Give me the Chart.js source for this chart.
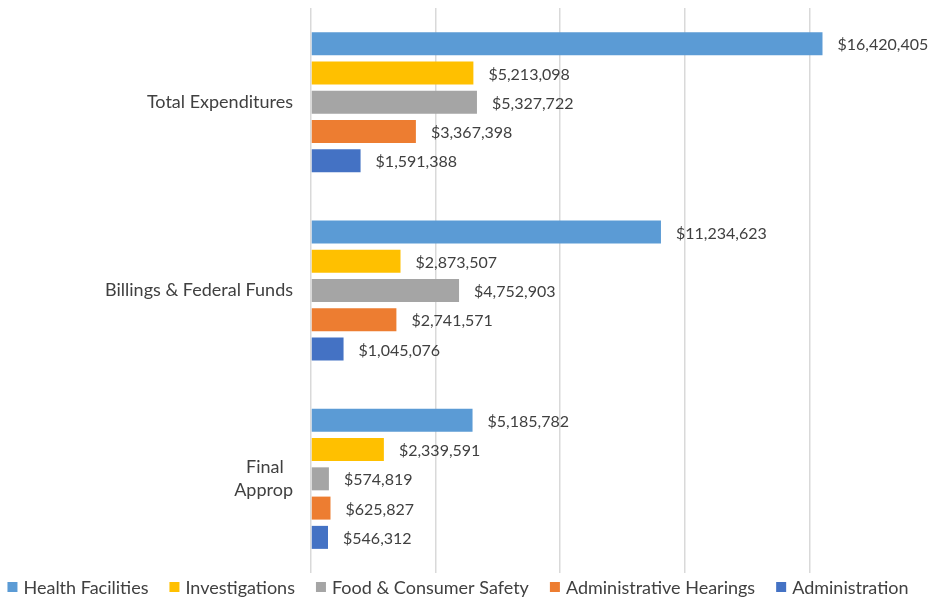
<!DOCTYPE html>
<html>
<head>
<meta charset="utf-8">
<script src="https://cdn.jsdelivr.net/npm/chart.js@4/dist/chart.umd.min.js"></script>
<style>
html,body{margin:0;padding:0;background:#fff;}
#wrap{width:938px;height:598px;position:relative;}
</style>
</head>
<body>
<div id="wrap"><canvas id="c"></canvas></div>
<script>
const categories = ['Total Expenditures', 'Billings & Federal Funds', 'Final Approp'];
const seriesNames = ['Health Facilities', 'Investigations', 'Food & Consumer Safety', 'Administrative Hearings', 'Administration'];
const healthFacilities = [16420405, 11234623, 5185782];
const investigations = [5213098, 2873507, 2339591];
const foodConsumerSafety = [5327722, 4752903, 574819];
const administrativeHearings = [3367398, 2741571, 625827];
const administration = [1591388, 1045076, 546312];
const xTicks = [0, 4000000, 8000000, 12000000, 16000000, 20000000];

const colors = ['#5B9BD5', '#FFC000', '#A5A5A5', '#ED7D31', '#4472C4'];
const seriesValues = [healthFacilities, investigations, foodConsumerSafety, administrativeHearings, administration];
const FONT = 'Lato';
const TEXT = '#404040';

const valueLabels = {
  id: 'valueLabels',
  afterDatasetsDraw(chart) {
    const ctx = chart.ctx;
    ctx.save();
    ctx.font = '16px ' + FONT;
    ctx.fillStyle = TEXT;
    ctx.textAlign = 'left';
    ctx.textBaseline = 'middle';
    chart.data.datasets.forEach((ds, di) => {
      const meta = chart.getDatasetMeta(di);
      meta.data.forEach((el, i) => {
        const v = ds.data[i];
        ctx.fillText('$' + v.toLocaleString('en-US'), el.x + 15, el.y + 1.5);
      });
    });
    ctx.restore();
  }
};

// Legend drawn on the canvas below the plot, built from the chart's datasets
const bottomLegend = {
  id: 'bottomLegend',
  afterDraw(chart) {
    const ctx = chart.ctx;
    ctx.save();
    ctx.font = '18px ' + FONT;
    ctx.textBaseline = 'middle';
    ctx.textAlign = 'left';
    const box = 10, gapText = 6, gapItem = 21;
    const items = chart.data.datasets.map(d => ({ text: d.label, color: d.backgroundColor, w: ctx.measureText(d.label).width }));
    let total = 0;
    items.forEach((it, i) => { total += box + gapText + it.w + (i < items.length - 1 ? gapItem : 0); });
    let x = chart.width / 2 - 11 - total / 2;
    const y = chart.chartArea.bottom + 14;
    items.forEach(it => {
      ctx.fillStyle = it.color;
      ctx.fillRect(x, y - box / 2, box, box);
      ctx.fillStyle = TEXT;
      ctx.fillText(it.text, x + box + gapText, y + 1);
      x += box + gapText + it.w + gapItem;
    });
    ctx.restore();
  }
};

new Chart(document.getElementById('c'), {
  type: 'bar',
  data: {
    labels: categories,
    datasets: seriesNames.map((n, i) => ({
      label: n,
      data: seriesValues[i],
      backgroundColor: colors[i],
      borderWidth: 0,
      barPercentage: 0.786,
      categoryPercentage: 0.777
    }))
  },
  options: {
    indexAxis: 'y',
    responsive: true,
    maintainAspectRatio: false,
    animation: false,
    layout: { padding: { top: 8, right: 4, left: 0, bottom: 25 } },
    scales: {
      x: {
        min: 0, max: 20000000,
        afterBuildTicks(s) { s.ticks = xTicks.map(v => ({ value: v })); },
        ticks: { display: false },
        border: { display: false },
        grid: {
          drawTicks: false,
          lineWidth: 1.5,
          color: (c) => (c.tick && c.tick.value === 20000000) ? 'rgba(0,0,0,0)' : '#D9D9D9'
        },
        afterFit(s) { s.height = 0; s.paddingLeft = 0; s.paddingRight = 0; }
      },
      y: {
        border: { display: false },
        grid: { display: false, drawTicks: false },
        ticks: {
          color: TEXT,
          font: { family: FONT, size: 18, lineHeight: 1.28 },
          padding: 18,
          callback(v, i) {
            const l = categories[i];
            return l === 'Final Approp' ? ['Final  ', 'Approp'] : l;
          }
        },
        afterFit(s) { s.width = 311; s.paddingTop = 0; s.paddingBottom = 0; }
      }
    },
    plugins: {
      tooltip: { enabled: false },
      legend: { display: false }
    }
  },
  plugins: [valueLabels, bottomLegend]
});
</script>
</body>
</html>
